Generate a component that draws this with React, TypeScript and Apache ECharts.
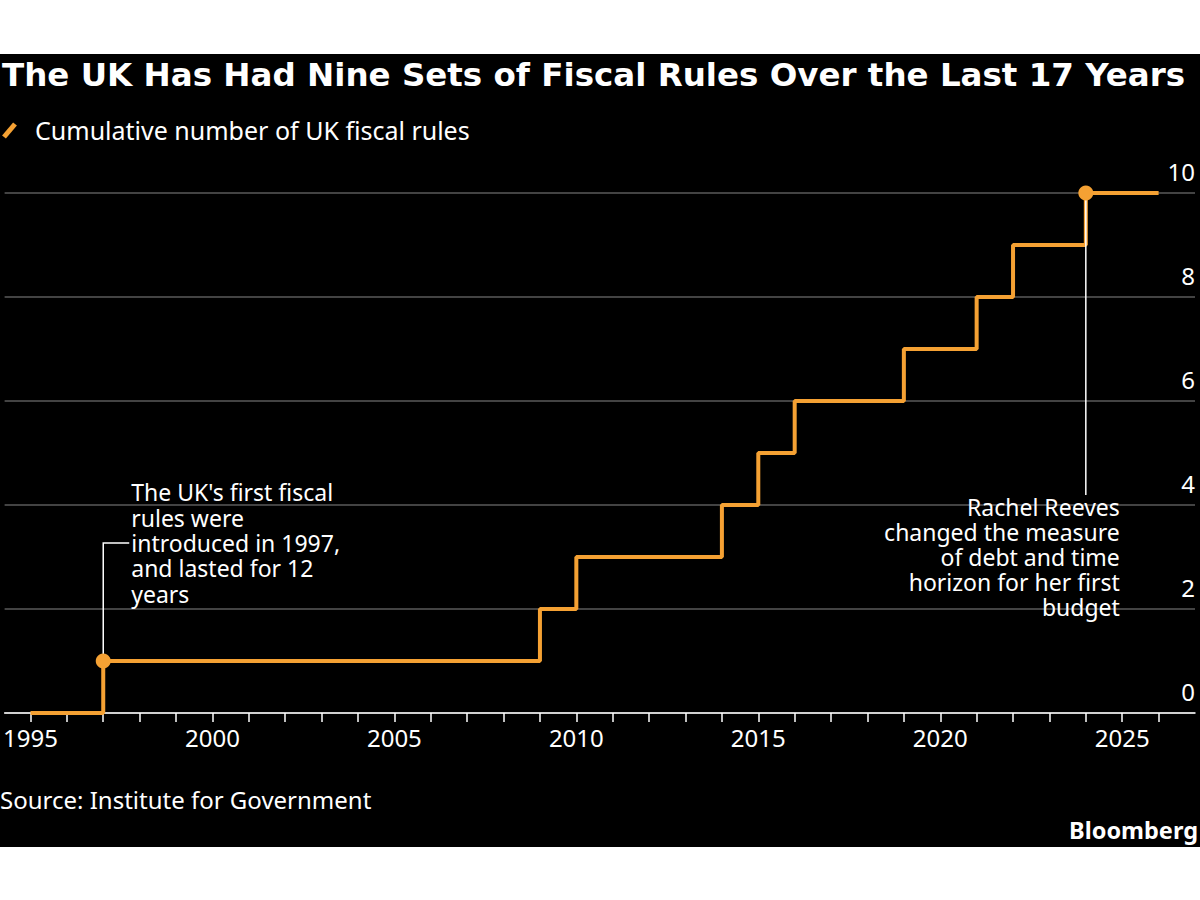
import React, { useEffect, useRef } from "react";
import * as echarts from "echarts";

const years = [1995, 1997, 2009, 2010, 2014, 2015, 2016, 2019, 2021, 2022, 2024, 2026];
const counts = [0, 1, 2, 3, 4, 5, 6, 7, 8, 9, 10, 10];
const highlightPoints = [[1997, 1], [2024, 10]];
const xTickYears = [1995, 1996, 1997, 1998, 1999, 2000, 2001, 2002, 2003, 2004, 2005, 2006, 2007, 2008, 2009, 2010, 2011, 2012, 2013, 2014, 2015, 2016, 2017, 2018, 2019, 2020, 2021, 2022, 2023, 2024, 2025, 2026];
const xLabelYears = [1995, 2000, 2005, 2010, 2015, 2020, 2025];
const xMin = 1994.29;
const xMax = 2027.0;
const yMin = 0;
const yMax = 10;
const yInterval = 2;

const titleText = "The UK Has Had Nine Sets of Fiscal Rules Over the Last 17 Years";
const legendText = "Cumulative number of UK fiscal rules";
const sourceText = "Source: Institute for Government";
const brandText = "Bloomberg";
const note1Lines = ["The UK's first fiscal", "rules were", "introduced in 1997,", "and lasted for 12", "years"];
const note2Lines = ["Rachel Reeves", "changed the measure", "of debt and time", "horizon for her first", "budget"];

const ORANGE = "#f5a133";
const FONT = "'Noto Sans', sans-serif";
const TITLE_FONT = "'DejaVu Sans', sans-serif";

export default function App() {
  const ref = useRef<HTMLDivElement>(null);
  useEffect(() => {
    if (!ref.current) return;
    const chart = echarts.init(ref.current, null, { renderer: "svg" });
    const data = years.map((y, i) => [y, counts[i]]);
    const bg = { type: "rect", z: -10, silent: true, shape: { x: 0, y: 54, width: 1200, height: 793 }, style: { fill: "#000000" } };
    chart.setOption({
      animation: false,
      backgroundColor: "#ffffff",
      grid: { left: 0, right: 5, top: 193, bottom: 187, containLabel: false },
      xAxis: {
        type: "value",
        min: xMin,
        max: xMax,
        axisLine: { show: true, lineStyle: { color: "#ffffff", width: 1.5 } },
        axisTick: { show: true, length: 9, customValues: xTickYears, lineStyle: { color: "#ffffff", width: 1.5 } },
        axisLabel: {
          color: "#ffffff",
          fontFamily: FONT,
          fontSize: 24,
          margin: 12,
          customValues: xLabelYears,
          formatter: (v: number) => String(v),
        },
        splitLine: { show: false },
      },
      yAxis: {
        type: "value",
        position: "right",
        min: yMin,
        max: yMax,
        interval: yInterval,
        axisLine: { show: false },
        axisTick: { show: false },
        axisLabel: {
          inside: true,
          margin: 0,
          color: "#ffffff",
          fontFamily: FONT,
          fontSize: 24,
          verticalAlign: "bottom",
          padding: [0, 0, 10, 0],
        },
        splitLine: { show: true, lineStyle: { color: "#5a5a5a", width: 1.5 } },
      },
      series: [
        {
          type: "line",
          step: "end",
          data,
          symbol: "none",
          lineStyle: { color: ORANGE, width: 4 },
          z: 3,
        },
        {
          type: "scatter",
          data: highlightPoints,
          symbol: "circle",
          symbolSize: 15,
          itemStyle: { color: ORANGE, opacity: 1 },
          z: 5,
        },
      ],
      graphic: [bg],
    });

    const a1 = chart.convertToPixel({ gridIndex: 0 }, highlightPoints[0]) as number[];
    const a2 = chart.convertToPixel({ gridIndex: 0 }, highlightPoints[1]) as number[];
    const lh = 25.3;
    const bendY = a1[1] - 118;

    chart.setOption({
      graphic: [
        bg,
        {
          type: "text", z: 10, x: 2, y: 75,
          style: { text: titleText, fill: "#ffffff", font: `bold 32.5px ${TITLE_FONT}`, textVerticalAlign: "middle" },
        },
        {
          type: "line", z: 10, shape: { x1: 4, y1: 137, x2: 15, y2: 124 },
          style: { stroke: ORANGE, lineWidth: 5 },
        },
        {
          type: "text", z: 10, x: 35, y: 130,
          style: { text: legendText, fill: "#ffffff", font: `25px ${FONT}`, textVerticalAlign: "middle" },
        },
        {
          type: "text", z: 10, x: 0, y: 799,
          style: { text: sourceText, fill: "#ffffff", font: `24px ${FONT}`, textVerticalAlign: "middle" },
        },
        {
          type: "text", z: 10, x: 1198, y: 830,
          style: { text: brandText, fill: "#ffffff", font: `bold 23.5px ${FONT}`, textAlign: "right", textVerticalAlign: "middle" },
        },
        {
          type: "polyline", z: 4,
          shape: { points: [[a1[0], a1[1]], [a1[0], bendY], [a1[0] + 26, bendY]] },
          style: { stroke: "#ffffff", lineWidth: 1.5, fill: null },
        },
        {
          type: "text", z: 10, x: a1[0] + 28, y: bendY - 2 * lh - lh / 2,
          style: {
            text: note1Lines.join("\n"), fill: "#ffffff", font: `23px ${FONT}`,
            lineHeight: lh, textVerticalAlign: "top",
          },
        },
        {
          type: "line", z: 4,
          shape: { x1: a2[0], y1: a2[1], x2: a2[0], y2: a2[1] + 302 },
          style: { stroke: "#ffffff", lineWidth: 1.5 },
        },
        {
          type: "text", z: 10, x: a2[0] + 34, y: a2[1] + 301,
          style: {
            text: note2Lines.join("\n"), fill: "#ffffff", font: `23px ${FONT}`,
            lineHeight: 25, textAlign: "right", textVerticalAlign: "top",
          },
        },
      ],
    });

    return () => chart.dispose();
  }, []);
  return (
    <div
      ref={ref}
      style={{ position: "fixed", left: 0, top: 0, width: 1200, height: 900 }}
    />
  );
}
